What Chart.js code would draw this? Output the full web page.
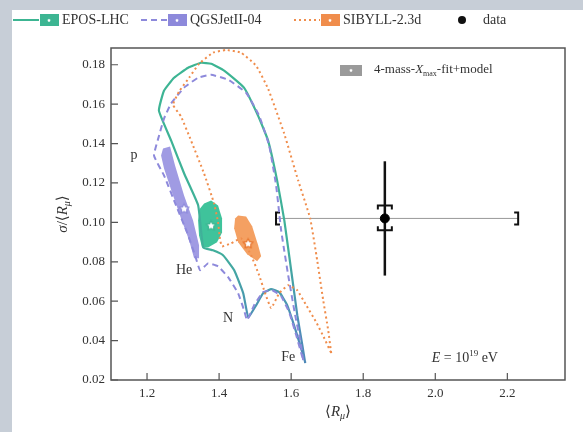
<!DOCTYPE html>
<html>
<head>
<meta charset="utf-8">
<script src="https://cdn.jsdelivr.net/npm/chart.js@4.4.0/dist/chart.umd.min.js"></script>
<style>
  html, body { margin: 0; padding: 0; background: #c7ced7; }
  #wrap { position: absolute; left: 12px; top: 10px; width: 571px; height: 422px; background: #fff; }
</style>
</head>
<body>
<div id="wrap"><canvas id="chart" width="571" height="422"></canvas></div>
<script>
const xTicks = [1.2, 1.4, 1.6, 1.8, 2.0, 2.2];
const yTicks = [0.02, 0.04, 0.06, 0.08, 0.10, 0.12, 0.14, 0.16, 0.18];

// model curves, path: Fe -> p (p-Fe arc) -> He -> N -> Fe
const eposR = [1.639, 1.631, 1.617, 1.600, 1.581, 1.561, 1.536, 1.508, 1.469, 1.414, 1.378, 1.350, 1.314, 1.275, 1.247, 1.233,
  1.267, 1.303, 1.342, 1.356, 1.383, 1.411, 1.442, 1.467, 1.481, 1.503, 1.522, 1.544, 1.567, 1.589, 1.608, 1.625, 1.639];
const eposSigma = [0.0286, 0.0377, 0.0529, 0.0757, 0.101, 0.1213, 0.1415, 0.1542, 0.1684, 0.177, 0.1805, 0.181, 0.1785, 0.1734, 0.1668, 0.1567,
  0.1415, 0.1248, 0.1086, 0.0873, 0.0858, 0.0833, 0.0757, 0.064, 0.0519, 0.058, 0.064, 0.0661, 0.0646, 0.058, 0.0478, 0.0377, 0.0291];

const qgsR = [1.6333, 1.625, 1.6111, 1.5917, 1.5722, 1.5583, 1.5389, 1.5111, 1.475, 1.425, 1.3778, 1.3417, 1.3028, 1.2667, 1.2472, 1.2333, 1.2194,
  1.2472, 1.2806, 1.3111, 1.3333, 1.3472, 1.3694, 1.3972, 1.425, 1.4528, 1.4694, 1.4778, 1.4972, 1.5222, 1.5472, 1.5722, 1.5944, 1.6139, 1.6333];
const qgsSigma = [0.0301, 0.0403, 0.0529, 0.0732, 0.0959, 0.1187, 0.139, 0.1542, 0.1658, 0.1724, 0.1749, 0.1734, 0.1684, 0.1603, 0.1527, 0.144, 0.1339,
  0.1238, 0.1086, 0.0949, 0.0833, 0.0757, 0.0792, 0.0777, 0.0722, 0.064, 0.0554, 0.0504, 0.058, 0.0646, 0.0656, 0.0625, 0.0544, 0.0428, 0.0301];

const sibyllR = [1.7111, 1.7028, 1.6889, 1.6722, 1.6528, 1.6194, 1.5806, 1.5361, 1.5028, 1.4611, 1.4194, 1.3833, 1.3444, 1.3167, 1.2889, 1.2722,
  1.2944, 1.3222, 1.3583, 1.3861, 1.3972, 1.4028, 1.4083, 1.4333, 1.4611, 1.4889, 1.5111, 1.5278, 1.5444, 1.5667, 1.5917, 1.6167, 1.6417, 1.6694, 1.6917, 1.7111];
const sibyllSigma = [0.0337, 0.0453, 0.0605, 0.0808, 0.102, 0.1213, 0.1451, 0.1678, 0.1795, 0.1861, 0.1875, 0.1861, 0.1805, 0.1734, 0.1664, 0.1597,
  0.1537, 0.1415, 0.1248, 0.1096, 0.1, 0.0909, 0.0878, 0.0894, 0.0919, 0.0833, 0.0732, 0.064, 0.0565, 0.064, 0.0681, 0.0656, 0.058, 0.0494, 0.0413, 0.0337];

// 4-mass Xmax fit + model bands (outlines)
const qgsBandR = [1.2444, 1.2639, 1.2778, 1.3028, 1.3278, 1.3444, 1.3444, 1.3306, 1.3167, 1.2944, 1.2694, 1.2472, 1.2389];
const qgsBandSigma = [0.1375, 0.1385, 0.1289, 0.1137, 0.101, 0.0884, 0.0818, 0.0818, 0.0909, 0.102, 0.1152, 0.1273, 0.1339];
const eposBandR = [1.3583, 1.3778, 1.3972, 1.4083, 1.4083, 1.3944, 1.3694, 1.3528, 1.3444, 1.3417, 1.3472];
const eposBandSigma = [0.1096, 0.1111, 0.1086, 0.102, 0.0949, 0.0899, 0.0873, 0.0873, 0.0934, 0.101, 0.1071];
const sibyllBandR = [1.4528, 1.475, 1.4917, 1.5083, 1.5167, 1.5056, 1.4778, 1.4528, 1.4417, 1.4444];
const sibyllBandSigma = [0.1035, 0.103, 0.098, 0.0884, 0.0828, 0.0803, 0.0838, 0.0899, 0.097, 0.102];

// best fit points
const fitR = [1.3778, 1.3028, 1.4806];
const fitSigma = [0.0985, 0.1071, 0.0894];

// data point with stat and sys uncertainties
const dataR = 1.86;
const dataSigma = 0.102;
const dataStatSigma = 0.029;
const dataSysSigma = [0.006, 0.0066];
const dataSysR = [1.558, 2.23];

const teal = '#3cb592';
const purple = '#8d89db';
const orange = '#f08d4c';
const serif = '"Liberation Serif", "DejaVu Serif", serif';

function pts(xs, ys) {
  return xs.map((x, i) => ({ x: x, y: ys[i] }));
}

function starIcon(color, size) {
  const c = document.createElement('canvas');
  c.width = size; c.height = size;
  const g = c.getContext('2d');
  const m = size / 2;
  g.beginPath();
  for (let i = 0; i < 10; i++) {
    const r = i % 2 ? m * 0.45 : m - 1;
    const a = -Math.PI / 2 + i * Math.PI / 5;
    g.lineTo(m + r * Math.cos(a), m + 0.5 + r * Math.sin(a));
  }
  g.closePath();
  g.fillStyle = '#fff';
  g.fill();
  g.strokeStyle = color;
  g.lineWidth = 1.3;
  g.stroke();
  return c;
}

function drawRich(ctx, parts, x, y, size, align) {
  const fontFor = (p) => `${p.it ? 'italic ' : ''}${p.sub || p.sup ? Math.round(size * 0.65) : size}px ${serif}`;
  let w = 0;
  parts.forEach((p) => { ctx.font = fontFor(p); w += ctx.measureText(p.t).width; });
  let cx = align === 'center' ? x - w / 2 : align === 'right' ? x - w : x;
  ctx.textAlign = 'left';
  ctx.textBaseline = 'middle';
  parts.forEach((p) => {
    ctx.font = fontFor(p);
    const dy = p.sub ? size * 0.3 : p.sup ? -size * 0.35 : 0;
    ctx.fillText(p.t, cx, y + dy);
    cx += ctx.measureText(p.t).width;
  });
}

const decorations = {
  id: 'decorations',
  beforeDatasetsDraw(chart) {
    const { ctx, scales: { x, y } } = chart;
    ctx.save();
    [[qgsBandR, qgsBandSigma, '#a09be3'], [eposBandR, eposBandSigma, '#3fc39b'], [sibyllBandR, sibyllBandSigma, '#f4a062']]
      .forEach(([rs, ss, col]) => {
        ctx.beginPath();
        rs.forEach((r, i) => ctx.lineTo(x.getPixelForValue(r), y.getPixelForValue(ss[i])));
        ctx.closePath();
        ctx.fillStyle = col;
        ctx.fill();
      });

    // data uncertainties
    const px = x.getPixelForValue(dataR);
    const py = y.getPixelForValue(dataSigma);
    ctx.strokeStyle = '#999';
    ctx.lineWidth = 1;
    ctx.beginPath();
    ctx.moveTo(x.getPixelForValue(dataSysR[0]), py);
    ctx.lineTo(x.getPixelForValue(dataSysR[1]), py);
    ctx.stroke();

    ctx.strokeStyle = '#111';
    ctx.lineWidth = 2;
    const xl = x.getPixelForValue(dataSysR[0]);
    const xr = x.getPixelForValue(dataSysR[1]);
    ctx.beginPath();
    ctx.moveTo(xl + 4, py - 6); ctx.lineTo(xl, py - 6); ctx.lineTo(xl, py + 6); ctx.lineTo(xl + 4, py + 6);
    ctx.moveTo(xr - 4, py - 6); ctx.lineTo(xr, py - 6); ctx.lineTo(xr, py + 6); ctx.lineTo(xr - 4, py + 6);
    const yt = y.getPixelForValue(dataSigma + dataSysSigma[1]);
    const yb = y.getPixelForValue(dataSigma - dataSysSigma[0]);
    ctx.moveTo(px - 7, yt + 4); ctx.lineTo(px - 7, yt); ctx.lineTo(px + 7, yt); ctx.lineTo(px + 7, yt + 4);
    ctx.moveTo(px - 7, yb - 4); ctx.lineTo(px - 7, yb); ctx.lineTo(px + 7, yb); ctx.lineTo(px + 7, yb - 4);
    ctx.stroke();

    ctx.lineWidth = 2.5;
    ctx.beginPath();
    ctx.moveTo(px, y.getPixelForValue(dataSigma + dataStatSigma));
    ctx.lineTo(px, y.getPixelForValue(dataSigma - dataStatSigma));
    ctx.stroke();
    ctx.restore();
  },
  afterDraw(chart) {
    const { ctx, chartArea: a, scales: { x, y } } = chart;
    ctx.save();

    // frame and inward ticks
    ctx.strokeStyle = '#555';
    ctx.lineWidth = 1.5;
    ctx.strokeRect(a.left, a.top, a.right - a.left, a.bottom - a.top);
    ctx.lineWidth = 1.2;
    ctx.beginPath();
    xTicks.forEach((v) => {
      const p = x.getPixelForValue(v);
      ctx.moveTo(p, a.bottom); ctx.lineTo(p, a.bottom - 7);
    });
    yTicks.forEach((v) => {
      const p = y.getPixelForValue(v);
      ctx.moveTo(a.left, p); ctx.lineTo(a.left + 7, p);
    });
    ctx.stroke();

    // composition labels
    ctx.fillStyle = '#333';
    [['p', 1.164, 0.134], ['He', 1.303, 0.0757], ['N', 1.425, 0.0514], ['Fe', 1.592, 0.0316]].forEach(([t, r, s]) => {
      drawRich(ctx, [{ t: t }], x.getPixelForValue(r), y.getPixelForValue(s), 14, 'center');
    });
    drawRich(ctx, [{ t: 'E', it: true }, { t: ' = 10' }, { t: '19', sup: true }, { t: ' eV' }],
      x.getPixelForValue(1.99), y.getPixelForValue(0.031), 14, 'left');

    // axis titles
    drawRich(ctx, [{ t: '⟨' }, { t: 'R', it: true }, { t: 'μ', sub: true, it: true }, { t: '⟩' }],
      (a.left + a.right) / 2, 402, 15, 'center');
    ctx.save();
    ctx.translate(51, (a.top + a.bottom) / 2);
    ctx.rotate(-Math.PI / 2);
    drawRich(ctx, [{ t: 'σ', it: true }, { t: '/⟨' }, { t: 'R', it: true }, { t: 'μ', sub: true, it: true }, { t: '⟩' }],
      0, 0, 15, 'center');
    ctx.restore();

    // in-plot legend for bands
    ctx.fillStyle = '#9a9a9a';
    ctx.fillRect(328, 55, 22, 11);
    ctx.drawImage(starIcon('#9a9a9a', 8), 335, 56);
    ctx.fillStyle = '#333';
    drawRich(ctx, [{ t: '4-mass-' }, { t: 'X', it: true }, { t: 'max', sub: true }, { t: '-fit+model' }], 362, 60, 13, 'left');

    // top legend
    const ly = 10;
    const items = [
      { x: 1, dash: [], col: teal, text: 'EPOS-LHC' },
      { x: 129, dash: [6, 4], col: purple, text: 'QGSJetII-04' },
      { x: 282, dash: [2, 3], col: orange, text: 'SIBYLL-2.3d' }
    ];
    items.forEach((it) => {
      ctx.strokeStyle = it.col;
      ctx.lineWidth = 2;
      ctx.setLineDash(it.dash);
      ctx.beginPath();
      ctx.moveTo(it.x, ly); ctx.lineTo(it.x + 26, ly);
      ctx.stroke();
      ctx.setLineDash([]);
      ctx.fillStyle = it.col;
      ctx.fillRect(it.x + 27, ly - 6, 19, 12);
      ctx.drawImage(starIcon(it.col, 8), it.x + 32, ly - 4);
      ctx.fillStyle = '#333';
      drawRich(ctx, [{ t: it.text }], it.x + 49, ly, 14, 'left');
    });
    ctx.fillStyle = '#111';
    ctx.beginPath();
    ctx.arc(450, ly, 4, 0, Math.PI * 2);
    ctx.fill();
    ctx.fillStyle = '#333';
    drawRich(ctx, [{ t: 'data' }], 471, ly, 14, 'left');
    ctx.restore();
  }
};

Chart.defaults.font.family = serif;

const eposColor = (c) => {
  const area = c.chart.chartArea;
  if (!area) return teal;
  const g = c.chart.ctx.createLinearGradient(0, area.top, 0, area.bottom);
  g.addColorStop(0, teal);
  g.addColorStop(0.6, '#40b09a');
  g.addColorStop(0.82, '#4c8fb6');
  g.addColorStop(1, '#4f86b8');
  return g;
};

new Chart(document.getElementById('chart'), {
  type: 'scatter',
  data: {
    datasets: [
      { label: 'data', data: [{ x: dataR, y: dataSigma }], pointRadius: 4.5, pointBackgroundColor: '#000', pointBorderColor: '#000' },
      { label: 'fits', data: pts(fitR, fitSigma), pointStyle: [starIcon(teal, 12), starIcon(purple, 12), starIcon('#e8762e', 12)], pointRadius: 6 },
      { label: 'SIBYLL-2.3d', data: pts(sibyllR, sibyllSigma), showLine: true, pointRadius: 0, borderColor: orange, borderWidth: 2, borderDash: [2, 3], tension: 0.12 },
      { label: 'QGSJetII-04', data: pts(qgsR, qgsSigma), showLine: true, pointRadius: 0, borderColor: purple, borderWidth: 2, borderDash: [6, 4], tension: 0.12 },
      { label: 'EPOS-LHC', data: pts(eposR, eposSigma), showLine: true, pointRadius: 0, borderColor: eposColor, borderWidth: 2.2, tension: 0.12 }
    ]
  },
  options: {
    responsive: false,
    animation: false,
    layout: { padding: { top: 38, right: 18, left: 0, bottom: 0 } },
    plugins: { legend: { display: false }, tooltip: { enabled: false } },
    scales: {
      x: {
        type: 'linear',
        min: 1.1,
        max: 2.36,
        grid: { display: false, drawTicks: false },
        border: { display: false },
        afterBuildTicks: (s) => { s.ticks = xTicks.map((v) => ({ value: v })); },
        afterFit: (s) => { s.height = 52; },
        ticks: { padding: 6, color: '#333', font: { size: 13 }, callback: (v) => v.toFixed(1) }
      },
      y: {
        type: 'linear',
        min: 0.02,
        max: 0.1885,
        grid: { display: false, drawTicks: false },
        border: { display: false },
        afterBuildTicks: (s) => { s.ticks = yTicks.map((v) => ({ value: v })); },
        afterFit: (s) => { s.width = 99; },
        ticks: { padding: 6, color: '#333', font: { size: 13 }, callback: (v) => v.toFixed(2) }
      }
    }
  },
  plugins: [decorations]
});
</script>
</body>
</html>
